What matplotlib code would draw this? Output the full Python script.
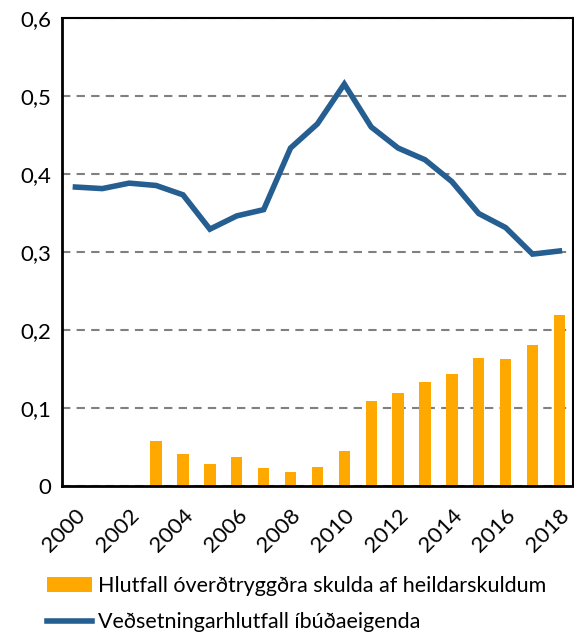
import matplotlib
matplotlib.use('Agg')
import matplotlib.pyplot as plt
from matplotlib.ticker import FuncFormatter

plt.rcParams['font.family'] = ['Lato', 'DejaVu Sans']

# gogn
ar = list(range(2000, 2019))
vedsetning = [0.383, 0.381, 0.388, 0.385, 0.373, 0.329, 0.346, 0.354, 0.433, 0.464,
              0.515, 0.460, 0.433, 0.418, 0.390, 0.349, 0.331, 0.297, 0.301]
overdtryggt = [0, 0, 0, 0.058, 0.041, 0.028, 0.037, 0.023, 0.018, 0.024,
               0.045, 0.109, 0.119, 0.133, 0.143, 0.164, 0.163, 0.181, 0.219]
x_merki = [str(a) for a in ar[::2]]

blar = '#255E91'
gulur = '#FFA800'

fig = plt.figure(figsize=(5.74, 6.35), dpi=100)
ax = fig.add_axes([0.108, 0.235, 0.89, 0.737])

x = list(range(len(ar)))
stolpar = ax.bar(x, overdtryggt, width=0.42, color=gulur, zorder=2,
                 label='Hlutfall óverðtryggðra skulda af heildarskuldum')
lina, = ax.plot(x, vedsetning, color=blar, lw=4, zorder=3, solid_joinstyle='miter',
                label='Veðsetningarhlutfall íbúðaeigenda')

ax.set_xlim(-0.5, len(ar) - 0.5)
ax.set_ylim(0, 0.6)
ax.set_yticks([0, 0.1, 0.2, 0.3, 0.4, 0.5, 0.6])
ax.yaxis.set_major_formatter(FuncFormatter(lambda v, p: '0' if v == 0 else f'{v:.1f}'.replace('.', ',')))
ax.set_xticks(x[::2])
ax.set_xticklabels(x_merki, rotation=45, ha='right', rotation_mode='anchor')
ax.tick_params(axis='both', length=0, labelsize=16)
ax.tick_params(axis='x', pad=14)
ax.tick_params(axis='y', pad=8)

ax.yaxis.grid(True, color='#808080', ls=(0, (4, 3)), lw=1.5, zorder=1)
for s in ax.spines.values():
    s.set_color('black')
    s.set_linewidth(1.5)
ax.spines['left'].set_linewidth(2)
ax.spines['bottom'].set_linewidth(2)

fig.legend(handles=[stolpar, lina], loc='upper left', bbox_to_anchor=(0.067, 0.107),
           frameon=False, fontsize=15.5, handlelength=2.1, handletextpad=0.25,
           labelspacing=0.78, borderaxespad=0)

fig.savefig('out.png', dpi=100)
